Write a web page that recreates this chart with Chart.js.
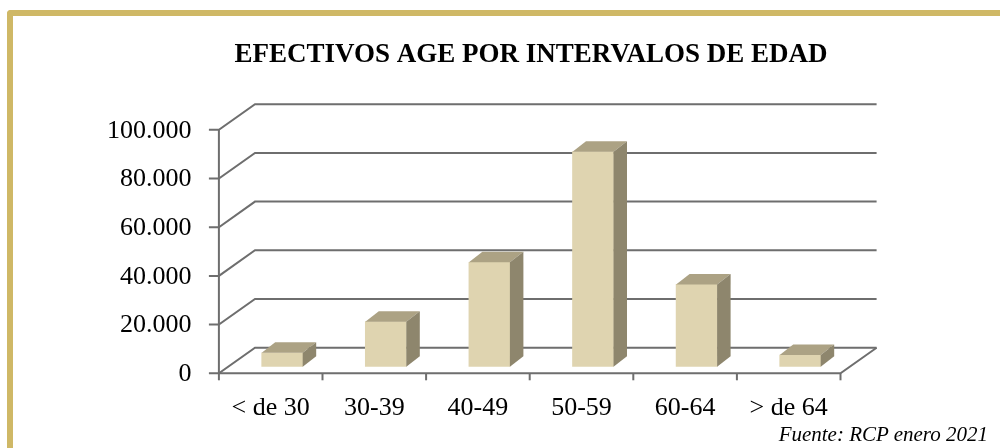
<!DOCTYPE html>
<html>
<head>
<meta charset="utf-8">
<script src="https://cdn.jsdelivr.net/npm/chart.js@4/dist/chart.umd.min.js"></script>
<style>
  html, body { margin: 0; padding: 0; background: #ffffff; }
  #wrap { position: relative; width: 1000px; height: 448px; overflow: hidden; }
  #frame { position: absolute; left: 7px; top: 10px; width: 1100px; height: 500px;
           border-top: 6px solid #CFB866; border-left: 6px solid #CFB866;
           border-top-left-radius: 4px; box-sizing: border-box; }
  #chart { position: absolute; left: 0; top: 0; }
  #source { position: absolute; right: 12px; top: 424px; font-family: "Liberation Serif", serif;
            font-style: italic; font-size: 21px; line-height: 21px; color: #000; white-space: nowrap; }
</style>
</head>
<body>
<div id="wrap">
  <div id="frame"></div>
  <canvas id="chart" width="1000" height="448"></canvas>
  <div id="source">Fuente: RCP enero 2021</div>
</div>
<script>
// ---- data ----
const categories = ['< de 30', '30-39', '40-49', '50-59', '60-64', '> de 64'];
const efectivos = [5700, 18500, 42900, 88300, 33800, 4800];
const yTickLabels = ['0', '20.000', '40.000', '60.000', '80.000', '100.000'];
const chartTitle = 'EFECTIVOS AGE POR INTERVALOS DE EDAD';

// ---- styling ----
const FRONT_COLOR = '#DFD4B0';
const TOP_COLOR = '#ACA284';
const SIDE_COLOR = '#8E866D';
const GRID_COLOR = '#6e6e6e';
const DEPTH = { dx: 13.5, dy: -10.5 };   // bar depth
const FRONT = { dx: -11.5, dy: 6.6 };    // front axis plane relative to bar plane
const BACK = { dx: 24.6, dy: -19 };      // back wall relative to bar plane

const threeD = {
  id: 'threeD',
  beforeDatasetsDraw(chart) {
    const { ctx, scales: { x, y } } = chart;
    const left = x.left, right = x.right;
    ctx.save();
    ctx.strokeStyle = GRID_COLOR;
    ctx.lineWidth = 2;
    ctx.lineJoin = 'miter';
    y.ticks.forEach(t => {
      const yp = y.getPixelForValue(t.value);
      ctx.beginPath();
      ctx.moveTo(left + FRONT.dx - 10, yp + FRONT.dy);
      ctx.lineTo(left + FRONT.dx, yp + FRONT.dy);
      ctx.lineTo(left + BACK.dx, yp + BACK.dy);
      ctx.lineTo(right + BACK.dx, yp + BACK.dy);
      ctx.stroke();
    });
    const y0 = y.getPixelForValue(0);
    const yMax = y.getPixelForValue(y.max);
    ctx.beginPath();
    ctx.moveTo(left + FRONT.dx, yMax + FRONT.dy);
    ctx.lineTo(left + FRONT.dx, y0 + FRONT.dy);
    ctx.lineTo(right + FRONT.dx, y0 + FRONT.dy);
    ctx.lineTo(right + BACK.dx, y0 + BACK.dy);
    ctx.stroke();
    for (let i = 0; i <= categories.length; i++) {
      const xb = x.getPixelForValue(i - 0.5) + FRONT.dx;
      ctx.beginPath();
      ctx.moveTo(xb, y0 + FRONT.dy);
      ctx.lineTo(xb, y0 + FRONT.dy + 7);
      ctx.stroke();
    }
    ctx.restore();
  },
  afterDatasetsDraw(chart) {
    const { ctx } = chart;
    const meta = chart.getDatasetMeta(0);
    ctx.save();
    meta.data.forEach(bar => {
      const p = bar.getProps(['x', 'y', 'base', 'width'], true);
      const l = p.x - p.width / 2, r = p.x + p.width / 2;
      const top = p.y, base = p.base;
      ctx.fillStyle = TOP_COLOR;
      ctx.beginPath();
      ctx.moveTo(l, top);
      ctx.lineTo(r, top);
      ctx.lineTo(r + DEPTH.dx, top + DEPTH.dy);
      ctx.lineTo(l + DEPTH.dx, top + DEPTH.dy);
      ctx.closePath();
      ctx.fill();
      ctx.fillStyle = SIDE_COLOR;
      ctx.beginPath();
      ctx.moveTo(r, top);
      ctx.lineTo(r + DEPTH.dx, top + DEPTH.dy);
      ctx.lineTo(r + DEPTH.dx, base + DEPTH.dy);
      ctx.lineTo(r, base);
      ctx.closePath();
      ctx.fill();
    });
    ctx.restore();
  }
};

new Chart(document.getElementById('chart'), {
  type: 'bar',
  data: {
    labels: categories,
    datasets: [{
      data: efectivos,
      backgroundColor: FRONT_COLOR,
      borderWidth: 0,
      barThickness: 41,
      yAxisID: 'y'
    }]
  },
  options: {
    responsive: false,
    animation: false,
    events: [],
    layout: { padding: { left: 62, right: 0, top: 0, bottom: 0 } },
    plugins: {
      legend: { display: false },
      tooltip: { enabled: false },
      title: {
        display: true,
        text: chartTitle,
        color: '#000',
        font: { family: '"Liberation Serif", serif', size: 27, weight: 'bold', lineHeight: 1.2 },
        padding: { top: 38.8, bottom: 52 }
      }
    },
    scales: {
      x: {
        grid: { display: false, drawTicks: false },
        border: { display: false },
        ticks: {
          color: '#000',
          font: { family: '"Liberation Serif", serif', size: 26, lineHeight: 1.2 },
          padding: 25.6,
          labelOffset: -11.5,
          maxRotation: 0,
          autoSkip: false
        },
        afterFit(scale) { scale.height = 81.3; }
      },
      y: {
        position: 'left',
        min: 0,
        max: 100000,
        grid: { display: false, drawTicks: false },
        border: { display: false },
        ticks: {
          stepSize: 20000,
          color: '#000',
          font: { family: '"Liberation Serif", serif', size: 26 },
          padding: 39,
          labelOffset: 7.5,
          callback: (v, i) => yTickLabels[i]
        },
        afterFit(scale) { scale.width = 168.4; }
      },
      spacer: {
        type: 'linear',
        position: 'right',
        display: true,
        grid: { display: false, drawTicks: false },
        border: { display: false },
        ticks: { display: false },
        afterFit(scale) { scale.width = 148; }
      }
    }
  },
  plugins: [threeD]
});
</script>
</body>
</html>
